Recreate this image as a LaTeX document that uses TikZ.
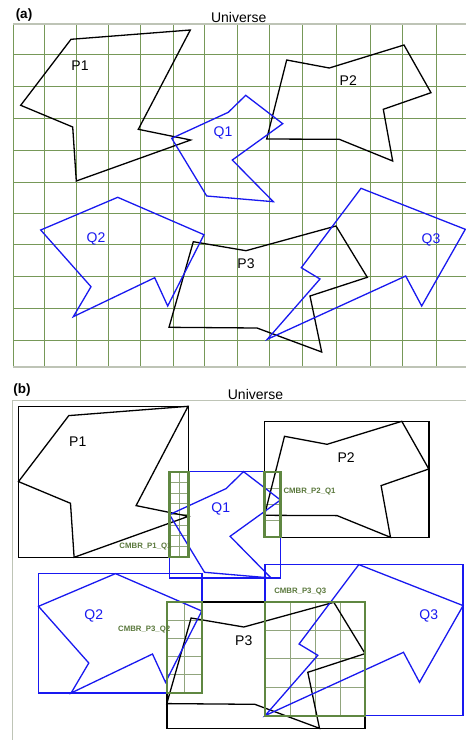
\documentclass[tikz,border=0pt]{standalone}
\usepackage{fontspec}
\setmainfont{Liberation Sans}
\definecolor{gridgreen}{RGB}{118,152,88}
\definecolor{gridgray}{RGB}{190,196,182}
\definecolor{qblue}{RGB}{25,25,240}
\definecolor{cgreen}{RGB}{95,135,65}
\definecolor{cgridc}{RGB}{145,165,125}
\definecolor{lblgreen}{RGB}{90,120,60}
\newcommand\PolyPone{(71,39.3) -- (190.3,30) -- (138.3,129.3) -- (190.7,140) -- (76.3,181) -- (72.7,127) -- (20.7,105.3) -- cycle}
\newcommand\PolyQone{(171.7,138.3) -- (228.3,112.3) -- (245.7,95.3) -- (282.7,123.7) -- (232.3,160) -- (273.3,201.7) -- (206.7,196) -- cycle}
\newcommand\PolyPtwo{(286.7,60) -- (329.3,68) -- (404,45) -- (431,92.7) -- (383.3,109.3) -- (392.7,161) -- (339.3,139.3) -- (266.7,139) -- cycle}
\newcommand\PolyQtwo{(40.7,230) -- (117.7,197.3) -- (204,234.7) -- (167.7,306) -- (154.7,277.7) -- (73.3,316.7) -- (91,286.7) -- cycle}
\newcommand\PolyPthree{(193.3,241.7) -- (246,250.7) -- (336,226) -- (367.3,277.3) -- (310,296) -- (321.7,352) -- (257,328) -- (169,327.3) -- cycle}
\newcommand\PolyQthree{(361,188.3) -- (465.3,229.3) -- (421.7,306) -- (405.7,276) -- (267.3,339.3) -- (320,279) -- (301.3,267.7) -- cycle}
\newcommand\cmbrgrid[6]{%
  \foreach \i in {1,...,#5} {\draw[cgridline] ({#1+(#3-#1)*\i/#5},#2) -- ({#1+(#3-#1)*\i/#5},#4);}
  \foreach \j in {1,...,#6} {\draw[cgridline] (#1,{#2+(#4-#2)*\j/#6}) -- (#3,{#2+(#4-#2)*\j/#6});}
}
\tikzset{
  ugrid/.style={draw=gridgreen, line width=0.95pt},
  uborder/.style={draw=gridgray, line width=1.4pt},
  ppoly/.style={draw=black, line width=1.3pt, line join=miter},
  qpoly/.style={draw=qblue, line width=1.3pt, line join=miter},
  pbox/.style={draw=black, line width=1.4pt},
  qbox/.style={draw=qblue, line width=1.4pt},
  cborder/.style={draw=cgreen, line width=2.2pt},
  cgridline/.style={draw=cgridc, line width=0.9pt},
  plabel/.style={font=\fontsize{14}{16}\selectfont, text=black, inner sep=0pt},
  qlabel/.style={font=\fontsize{14}{16}\selectfont, text=qblue, inner sep=0pt},
  titlelabel/.style={font=\fontsize{14}{16}\selectfont, inner sep=0pt},
  panellabel/.style={font=\bfseries\fontsize{13.5}{16}\selectfont, inner sep=0pt},
  clabel/.style={font=\bfseries\fontsize{7.8}{9}\selectfont, text=lblgreen, inner sep=0pt}
}
\begin{document}
\begin{tikzpicture}[x=1pt,y=-1pt]
\useasboundingbox (0,0) rectangle (466,740);
\fill[white] (0,0) rectangle (466,740);
% ---------- panel (a) ----------
\node[panellabel] (la) at (24,15) {(a)};
\node[titlelabel] (ua) at (238.7,17) {Universe};
\foreach \yy in {54.3,86,118,150,182,213,244,276,308,340}
  \draw[ugrid] (13,\yy) -- (466,\yy);
\foreach \xx in {13,44.3,76.3,108.3,140.3,173,204.7,237,269,302.7,336.7,370,402.7,436.7}
  \draw[ugrid] (\xx,24) -- (\xx,367);
\draw[uborder] (13,24) -- (466,24);
\draw[uborder] (13,367) -- (466,367);
\draw[ppoly] \PolyPone;
\draw[ppoly] \PolyPtwo;
\draw[ppoly] \PolyPthree;
\draw[qpoly] \PolyQone;
\draw[qpoly] \PolyQtwo;
\draw[qpoly] \PolyQthree;
\node[plabel] (ap1) at (80,65.7) {P1};
\node[plabel] (ap2) at (348.3,81) {P2};
\node[plabel] (ap3) at (246,264) {P3};
\node[qlabel] (aq1) at (223,132.7) {Q1};
\node[qlabel] (aq2) at (96,239.3) {Q2};
\node[qlabel] (aq3) at (431,240) {Q3};
% ---------- panel (b) ----------
\node[panellabel] (lb) at (22,390) {(b)};
\node[titlelabel] (ub) at (255.5,394) {Universe};
\draw[uborder, line width=1.1pt] (466,400.3) -- (12.7,400.3) -- (12.7,740);
% MBRs
\draw[pbox] (18.5,406.3) rectangle (188.5,557.3);
\draw[pbox] (264.5,421.3) rectangle (428.8,537.3);
\draw[pbox] (166.8,602) rectangle (365.1,728.3);
\draw[qbox] (169.5,471.6) rectangle (280.5,578);
\draw[qbox] (38.5,573.6) rectangle (201.8,693);
\draw[qbox] (265.1,564.6) rectangle (463.1,715.6);
% CMBR grids
\cmbrgrid{169.5}{471.6}{188.5}{557.3}{2}{8}
\cmbrgrid{264.5}{471.6}{280.5}{537.3}{1}{4}
\cmbrgrid{166.8}{602}{201.8}{693}{2}{5}
\cmbrgrid{265.1}{602}{365.1}{715.6}{4}{4}
% polygons
\begin{scope}[shift={(-2.2,376.3)}]
\draw[ppoly] \PolyPone;
\draw[ppoly] \PolyPtwo;
\draw[ppoly] \PolyPthree;
\draw[qpoly] \PolyQone;
\draw[qpoly] \PolyQtwo;
\draw[qpoly] \PolyQthree;
\node[plabel] (bp1) at (80,65.7) {P1};
\node[plabel] (bp2) at (348.3,81) {P2};
\node[plabel] (bp3) at (246,264) {P3};
\node[qlabel] (bq1) at (223,132.7) {Q1};
\node[qlabel] (bq2) at (96,239.3) {Q2};
\node[qlabel] (bq3) at (431,240) {Q3};
\end{scope}
% CMBR borders
\draw[cborder] (169.5,471.6) rectangle (188.5,557.3);
\draw[cborder] (264.5,471.6) rectangle (280.5,537.3);
\draw[cborder] (166.8,602) rectangle (201.8,693);
\draw[cborder] (265.1,602) rectangle (365.1,715.6);
\node[clabel] (c1) at (145.5,546.7) {CMBR\_P1\_Q1};
\node[clabel, anchor=west] (c2) at (283.3,491.7) {CMBR\_P2\_Q1};
\node[clabel] (c3) at (144.2,630) {CMBR\_P3\_Q2};
\node[clabel] (c4) at (300.3,592) {CMBR\_P3\_Q3};
\end{tikzpicture}
\end{document}
